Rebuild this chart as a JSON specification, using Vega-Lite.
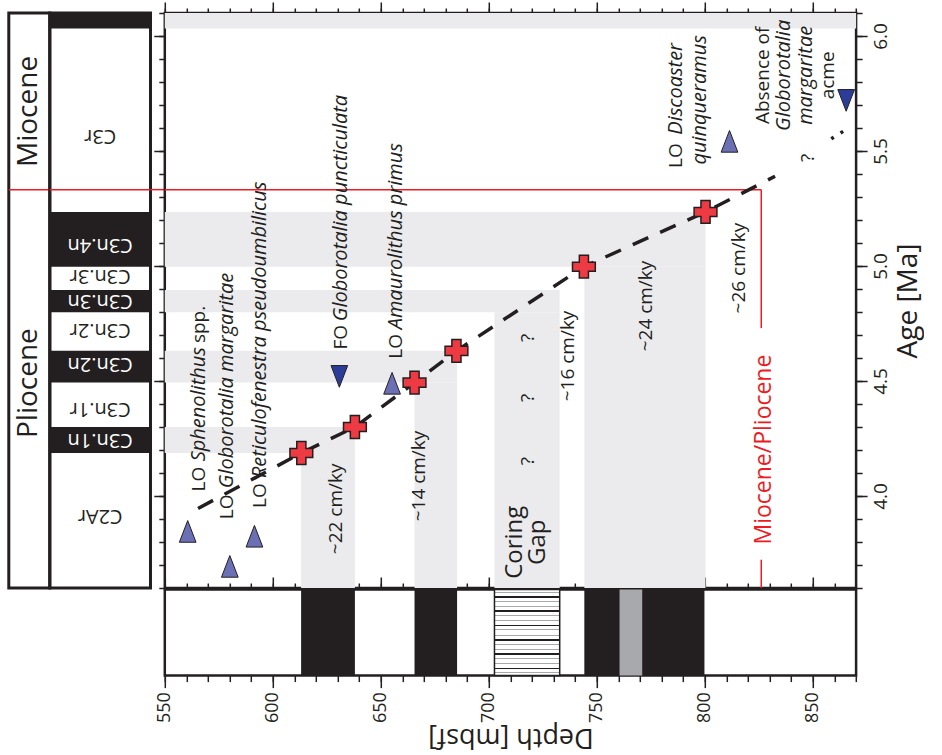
{
  "$schema": "https://vega.github.io/schema/vega-lite/v6.json",
  "padding": {"left": 5.8, "top": 0, "right": 0, "bottom": 0},
  "background": "white",
  "bounds": "flush",
  "columns": 4,
  "spacing": {"row": 1.6, "column": 0},
  "resolve": {"scale": {"x": "independent", "y": "independent"}},
  "config": {
    "view": {"stroke": null},
    "font": "Open Sans",
    "axis": {"domain": false, "grid": false, "tickColor": "#231f20", "tickWidth": 1.5, "labelColor": "#231f20", "titleColor": "#231f20", "labelFont": "Open Sans", "titleFont": "Open Sans", "titleFontWeight": "normal"},
    "text": {"font": "Open Sans"}
  },
  "datasets": {
    "bands": [
      {"d0": 550, "d1": 870, "a0": 6.033, "a1": 6.1},
      {"d0": 550, "d1": 800.3, "a0": 4.997, "a1": 5.235},
      {"d0": 744.2, "d1": 800.3, "a0": 3.6, "a1": 4.997},
      {"d0": 550, "d1": 732.8, "a0": 4.799, "a1": 4.896},
      {"d0": 702.6, "d1": 732.8, "a0": 3.6, "a1": 4.799},
      {"d0": 550, "d1": 685.3, "a0": 4.493, "a1": 4.631},
      {"d0": 665.6, "d1": 685.3, "a0": 3.6, "a1": 4.493},
      {"d0": 550, "d1": 638, "a0": 4.187, "a1": 4.3},
      {"d0": 613.1, "d1": 638, "a0": 3.6, "a1": 4.187}
    ],
    "boundary_lines": [
      {"d0": 550, "d1": 826.1, "a0": 5.332, "a1": 5.332},
      {"d0": 826.1, "d1": 826.1, "a0": 5.332, "a1": 4.73},
      {"d0": 826.1, "d1": 826.1, "a0": 3.723, "a1": 3.6}
    ],
    "boundary_age": [{"age": 5.332}],
    "model": [
      {"depth": 565.4, "age": 3.946},
      {"depth": 613.2, "age": 4.187},
      {"depth": 638, "age": 4.3},
      {"depth": 665.6, "age": 4.493},
      {"depth": 685, "age": 4.631},
      {"depth": 744, "age": 4.997},
      {"depth": 800.3, "age": 5.235},
      {"depth": 832.5, "age": 5.39}
    ],
    "model_dotted": [
      {"depth": 858.5, "age": 5.553},
      {"depth": 866.5, "age": 5.6}
    ],
    "ties": [
      {"depth": 613.2, "age": 4.187},
      {"depth": 638, "age": 4.3},
      {"depth": 665.6, "age": 4.493},
      {"depth": 685, "age": 4.631},
      {"depth": 744, "age": 4.997},
      {"depth": 800.3, "age": 5.235}
    ],
    "datums": [
      {"event": "LO Sphenolithus spp.", "kind": "LO", "depth": 560.6, "age": 3.846},
      {"event": "LO Globorotalia margaritae", "kind": "LO", "depth": 580.1, "age": 3.694},
      {"event": "LO Reticulofenestra pseudoumbilicus", "kind": "LO", "depth": 591.5, "age": 3.825},
      {"event": "FO Globorotalia puncticulata", "kind": "FO", "depth": 630.8, "age": 4.52},
      {"event": "LO Amaurolithus primus", "kind": "LO", "depth": 655.2, "age": 4.49},
      {"event": "LO Discoaster quinqueramus", "kind": "LO", "depth": 811.4, "age": 5.542},
      {"event": "Absence of Globorotalia margaritae acme", "kind": "FO", "depth": 865.4, "age": 5.72}
    ],
    "labels_left": [
      {"text": "LO", "depth": 568.5, "age": 4.02},
      {"text": "spp.", "depth": 568.5, "age": 4.665},
      {"text": "LO", "depth": 581.6, "age": 3.899},
      {"text": "LO", "depth": 596.9, "age": 3.948},
      {"text": "FO", "depth": 634.4, "age": 4.637},
      {"text": "LO", "depth": 659.9, "age": 4.597},
      {"text": "~22 cm/ky", "depth": 632.1, "age": 3.747},
      {"text": "~14 cm/ky", "depth": 670.6, "age": 3.89},
      {"text": "~16 cm/ky", "depth": 739.4, "age": 4.412},
      {"text": "~24 cm/ky", "depth": 775.6, "age": 4.629},
      {"text": "~26 cm/ky", "depth": 818.8, "age": 4.794},
      {"text": "LO", "depth": 789.5, "age": 5.426}
    ],
    "labels_left_it": [
      {"text": "Sphenolithus", "depth": 568.5, "age": 4.151},
      {"text": "Globorotalia margaritae", "depth": 581.6, "age": 4.034},
      {"text": "Reticulofenestra pseudoumbilicus", "depth": 596.9, "age": 4.078},
      {"text": "Globorotalia puncticulata", "depth": 634.4, "age": 4.76},
      {"text": "Amaurolithus primus", "depth": 659.9, "age": 4.725},
      {"text": "Discoaster", "depth": 789.5, "age": 5.571},
      {"text": "quinqueramus", "depth": 800.3, "age": 5.441}
    ],
    "labels_center": [
      {"text": "?", "depth": 720.8, "age": 4.687},
      {"text": "?", "depth": 720.8, "age": 4.426},
      {"text": "?", "depth": 720.8, "age": 4.151},
      {"text": "?", "depth": 850.5, "age": 5.47},
      {"text": "Absence of", "depth": 829.6, "age": 5.829},
      {"text": "acme", "depth": 859.7, "age": 5.829}
    ],
    "labels_center_it": [
      {"text": "Globorotalia", "depth": 839.6, "age": 5.829},
      {"text": "margaritae", "depth": 849.7, "age": 5.829}
    ],
    "labels_big": [
      {"text": "Coring", "depth": 715.4, "age": 3.799},
      {"text": "Gap", "depth": 726, "age": 3.799}
    ],
    "labels_red": [
      {"text": "Miocene/Pliocene", "depth": 830.4, "age": 4.202}
    ],
    "chrons": [
      {"label": "", "a0": 6.033, "a1": 6.1, "polarity": "normal", "label_age": 6.07},
      {"label": "C3r", "a0": 5.235, "a1": 6.033, "polarity": "reversed", "label_age": 5.564},
      {"label": "C3n.4n", "a0": 4.997, "a1": 5.235, "polarity": "normal", "label_age": 5.09},
      {"label": "C3n.3r", "a0": 4.896, "a1": 4.997, "polarity": "reversed", "label_age": 4.955},
      {"label": "C3n.3n", "a0": 4.799, "a1": 4.896, "polarity": "normal", "label_age": 4.847},
      {"label": "C3n.2r", "a0": 4.631, "a1": 4.799, "polarity": "reversed", "label_age": 4.72},
      {"label": "C3n.2n", "a0": 4.493, "a1": 4.631, "polarity": "normal", "label_age": 4.573},
      {"label": "C3n.1r", "a0": 4.3, "a1": 4.493, "polarity": "reversed", "label_age": 4.379},
      {"label": "C3n.1n", "a0": 4.187, "a1": 4.3, "polarity": "normal", "label_age": 4.242},
      {"label": "C2Ar", "a0": 3.6, "a1": 4.187, "polarity": "reversed", "label_age": 3.912}
    ],
    "epochs": [
      {"epoch": "Miocene", "label_age": 5.672},
      {"epoch": "Pliocene", "label_age": 4.491}
    ],
    "cores": [
      {"d0": 613.1, "d1": 638, "kind": "recovered", "track": "core"},
      {"d0": 665.6, "d1": 685.3, "kind": "recovered", "track": "core"},
      {"d0": 744.2, "d1": 799.8, "kind": "recovered", "track": "core"},
      {"d0": 760.5, "d1": 771, "kind": "gray", "track": "core"},
      {"d0": 702.6, "d1": 732.8, "kind": "gap", "track": "core"}
    ]
  },
  "concat": [
    {
      "width": 41, "height": 575,
      "view": {"stroke": "#231f20", "strokeWidth": 3},
      "layer": [
        {
          "data": {"name": "epochs"},
          "mark": {"type": "text", "angle": 270, "fontSize": 28, "align": "center", "baseline": "middle", "color": "#231f20"},
          "encoding": {
            "y": {"field": "label_age", "type": "quantitative", "scale": {"domain": [3.6, 6.1], "nice": false, "zero": false}, "axis": null},
            "text": {"field": "epoch"}
          }
        },
        {
          "data": {"name": "boundary_age"},
          "mark": {"type": "rule", "color": "#ed1c24", "strokeWidth": 1.5},
          "encoding": {"y": {"field": "age", "type": "quantitative", "axis": null}}
        }
      ]
    },
    {
      "width": 100.7, "height": 575,
      "view": {"stroke": "#231f20", "strokeWidth": 3},
      "layer": [
        {
          "data": {"name": "chrons"},
          "transform": [{"filter": "datum.polarity == 'normal'"}],
          "mark": {"type": "rect", "color": "#231f20"},
          "encoding": {
            "y": {"field": "a0", "type": "quantitative", "scale": {"domain": [3.6, 6.1], "nice": false, "zero": false}, "axis": null},
            "y2": {"field": "a1"}
          }
        },
        {
          "data": {"name": "boundary_age"},
          "mark": {"type": "rule", "color": "#ed1c24", "strokeWidth": 1.5},
          "encoding": {"y": {"field": "age", "type": "quantitative", "axis": null}}
        },
        {
          "data": {"name": "chrons"},
          "mark": {"type": "text", "angle": 180, "fontSize": 20, "align": "center", "baseline": "middle"},
          "encoding": {
            "y": {"field": "label_age", "type": "quantitative", "axis": null},
            "text": {"field": "label"},
            "color": {"field": "polarity", "type": "nominal", "scale": {"domain": ["normal", "reversed"], "range": ["#ffffff", "#231f20"]}, "legend": null}
          }
        }
      ]
    },
    {
      "width": 13.7, "height": 575,
      "data": {"name": "boundary_age"},
      "mark": {"type": "rule", "color": "#ed1c24", "strokeWidth": 1.5},
      "encoding": {"y": {"field": "age", "type": "quantitative", "scale": {"domain": [3.6, 6.1], "nice": false, "zero": false}, "axis": null}}
    },
    {
      "width": 691.3, "height": 575,
      "view": {"stroke": "#231f20", "strokeWidth": 2.5},
      "resolve": {"axis": {"x": "independent", "y": "independent"}},
      "layer": [
        {
          "data": {"name": "bands"},
          "mark": {"type": "rect", "color": "#ebebee"},
          "encoding": {
            "x": {"field": "d0", "type": "quantitative", "scale": {"domain": [550, 870], "nice": false, "zero": false},
                  "axis": {"orient": "bottom", "values": [550,560,570,580,590,600,610,620,630,640,650,660,670,680,690,700,710,720,730,740,750,760,770,780,790,800,810,820,830,840,850,860,870], "tickSize": -5, "labels": false, "title": null}},
            "x2": {"field": "d1"},
            "y": {"field": "a0", "type": "quantitative", "scale": {"domain": [3.6, 6.1], "nice": false, "zero": false},
                  "axis": {"orient": "left", "values": [3.6,3.7,3.8,3.9,4.0,4.1,4.2,4.3,4.4,4.5,4.6,4.7,4.8,4.9,5.0,5.1,5.2,5.3,5.4,5.5,5.6,5.7,5.8,5.9,6.0,6.1], "tickSize": 6, "labels": false, "title": null}},
            "y2": {"field": "a1"}
          }
        },
        {
          "data": {"name": "boundary_lines"},
          "mark": {"type": "rule", "color": "#ed1c24", "strokeWidth": 1.5},
          "encoding": {
            "x": {"field": "d0", "type": "quantitative", "axis": null},
            "x2": {"field": "d1"},
            "y": {"field": "a0", "type": "quantitative", "axis": null},
            "y2": {"field": "a1"}
          }
        },
        {
          "data": {"name": "model"},
          "mark": {"type": "line", "color": "#231f20", "strokeWidth": 3.5, "strokeDash": [17, 13]},
          "encoding": {
            "x": {"field": "depth", "type": "quantitative",
                  "axis": {"orient": "bottom", "values": [550,600,650,700,750,800,850], "tickSize": -11, "labels": false, "title": null}},
            "y": {"field": "age", "type": "quantitative",
                  "axis": {"orient": "right", "values": [4.0,4.5,5.0,5.5,6.0], "format": ".1f", "tickSize": 11, "labelAngle": 270, "labelAlign": "center", "labelBaseline": "top", "labelPadding": 4, "labelFontSize": 19, "title": "Age [Ma]", "titleFontSize": 28, "titleAngle": 270, "titleBaseline": "top", "titlePadding": 4}}
          }
        },
        {
          "data": {"name": "model_dotted"},
          "mark": {"type": "line", "color": "#231f20", "strokeWidth": 3.5, "strokeDash": [3, 8]},
          "encoding": {
            "x": {"field": "depth", "type": "quantitative", "axis": null},
            "y": {"field": "age", "type": "quantitative", "axis": null}
          }
        },
        {
          "data": {"name": "ties"},
          "mark": {"type": "point", "shape": "cross", "filled": true, "size": 520, "fill": "#ee3a43", "stroke": "#231f20", "strokeWidth": 1.5, "opacity": 1},
          "encoding": {
            "x": {"field": "depth", "type": "quantitative",
                  "axis": {"orient": "top", "values": [550,560,570,580,590,600,610,620,630,640,650,660,670,680,690,700,710,720,730,740,750,760,770,780,790,800,810,820,830,840,850,860,870], "tickSize": 5, "labels": false, "title": null}},
            "y": {"field": "age", "type": "quantitative",
                  "axis": {"orient": "right", "values": [3.6,3.7,3.8,3.9,4.0,4.1,4.2,4.3,4.4,4.5,4.6,4.7,4.8,4.9,5.0,5.1,5.2,5.3,5.4,5.5,5.6,5.7,5.8,5.9,6.0,6.1], "tickSize": 6, "labels": false, "title": null}}
          }
        },
        {
          "data": {"name": "datums"},
          "mark": {"type": "point", "filled": true, "size": 470, "stroke": "#231f20", "strokeWidth": 1, "opacity": 1},
          "encoding": {
            "x": {"field": "depth", "type": "quantitative",
                  "axis": {"orient": "top", "values": [550,600,650,700,750,800,850], "tickSize": 11, "labels": false, "title": null}},
            "y": {"field": "age", "type": "quantitative",
                  "axis": {"orient": "left", "values": [4.0,4.5,5.0,5.5,6.0], "tickSize": 11, "labels": false, "title": null}},
            "shape": {"field": "kind", "type": "nominal", "scale": {"domain": ["LO", "FO"], "range": ["M0,-1L-0.77,1L0.77,1Z", "M0,1L-0.77,-1L0.77,-1Z"]}, "legend": null},
            "fill": {"field": "kind", "type": "nominal", "scale": {"domain": ["LO", "FO"], "range": ["#6b6fb4", "#2b3d98"]}, "legend": null}
          }
        },
        {
          "data": {"name": "labels_left"},
          "mark": {"type": "text", "angle": 270, "align": "left", "baseline": "alphabetic", "fontSize": 19, "color": "#231f20"},
          "encoding": {
            "x": {"field": "depth", "type": "quantitative", "axis": null},
            "y": {"field": "age", "type": "quantitative", "axis": null},
            "text": {"field": "text"}
          }
        },
        {
          "data": {"name": "labels_left_it"},
          "mark": {"type": "text", "angle": 270, "align": "left", "baseline": "alphabetic", "fontSize": 20, "fontStyle": "italic", "color": "#231f20"},
          "encoding": {
            "x": {"field": "depth", "type": "quantitative", "axis": null},
            "y": {"field": "age", "type": "quantitative", "axis": null},
            "text": {"field": "text"}
          }
        },
        {
          "data": {"name": "labels_center"},
          "mark": {"type": "text", "angle": 270, "align": "center", "baseline": "alphabetic", "fontSize": 19, "color": "#231f20"},
          "encoding": {
            "x": {"field": "depth", "type": "quantitative", "axis": null},
            "y": {"field": "age", "type": "quantitative", "axis": null},
            "text": {"field": "text"}
          }
        },
        {
          "data": {"name": "labels_center_it"},
          "mark": {"type": "text", "angle": 270, "align": "center", "baseline": "alphabetic", "fontSize": 20, "fontStyle": "italic", "color": "#231f20"},
          "encoding": {
            "x": {"field": "depth", "type": "quantitative", "axis": null},
            "y": {"field": "age", "type": "quantitative", "axis": null},
            "text": {"field": "text"}
          }
        },
        {
          "data": {"name": "labels_big"},
          "mark": {"type": "text", "angle": 270, "align": "center", "baseline": "alphabetic", "fontSize": 24, "color": "#231f20"},
          "encoding": {
            "x": {"field": "depth", "type": "quantitative", "axis": null},
            "y": {"field": "age", "type": "quantitative", "axis": null},
            "text": {"field": "text"}
          }
        },
        {
          "data": {"name": "labels_red"},
          "mark": {"type": "text", "angle": 270, "align": "center", "baseline": "alphabetic", "fontSize": 23, "color": "#ed1c24"},
          "encoding": {
            "x": {"field": "depth", "type": "quantitative", "axis": null},
            "y": {"field": "age", "type": "quantitative", "axis": null},
            "text": {"field": "text"}
          }
        }
      ]
    },
    {"width": 1, "height": 1, "data": {"name": "boundary_age"}, "mark": {"type": "point", "opacity": 0}, "encoding": {"x": {"field": "age", "type": "quantitative", "axis": null}, "y": {"field": "age", "type": "quantitative", "axis": null}}},
    {"width": 1, "height": 1, "data": {"name": "boundary_age"}, "mark": {"type": "point", "opacity": 0}, "encoding": {"x": {"field": "age", "type": "quantitative", "axis": null}, "y": {"field": "age", "type": "quantitative", "axis": null}}},
    {"width": 1, "height": 1, "data": {"name": "boundary_age"}, "mark": {"type": "point", "opacity": 0}, "encoding": {"x": {"field": "age", "type": "quantitative", "axis": null}, "y": {"field": "age", "type": "quantitative", "axis": null}}},
    {
      "width": 691.3, "height": 86,
      "view": {"stroke": "#231f20", "strokeWidth": 2.5},
      "data": {"name": "cores"},
      "resolve": {"axis": {"x": "independent"}},
      "layer": [
        {
          "transform": [{"filter": "datum.kind == 'recovered'"}],
          "mark": {"type": "rect", "color": "#231f20"},
          "encoding": {
            "x": {"field": "d0", "type": "quantitative", "scale": {"domain": [550, 870], "nice": false, "zero": false},
                  "axis": {"orient": "bottom", "values": [550,560,570,580,590,600,610,620,630,640,650,660,670,680,690,700,710,720,730,740,750,760,770,780,790,800,810,820,830,840,850,860,870], "tickSize": 6, "labels": false, "title": null}},
            "x2": {"field": "d1"},
            "y": {"field": "track", "type": "nominal", "scale": {"paddingInner": 0, "paddingOuter": 0}, "axis": null}
          }
        },
        {
          "transform": [{"filter": "datum.kind == 'gray'"}],
          "mark": {"type": "rect", "color": "#a7a9ac"},
          "encoding": {
            "x": {"field": "d0", "type": "quantitative",
                  "axis": {"orient": "bottom", "values": [550,600,650,700,750,800,850], "tickSize": 12, "labelAngle": 270, "labelAlign": "right", "labelBaseline": "middle", "labelFontSize": 18, "labelPadding": 4, "title": "Depth [mbsf]", "titleFontSize": 27, "titleAngle": 180, "titleBaseline": "bottom", "titlePadding": 0}},
            "x2": {"field": "d1"},
            "y": {"field": "track", "type": "nominal", "axis": null}
          }
        },
        {
          "transform": [{"filter": "datum.kind == 'gap'"}],
          "mark": {"type": "rect", "stroke": "#231f20", "strokeWidth": 1.5,
            "fill": {"gradient": "linear", "x1": 0, "y1": 0, "x2": 0, "y2": 1, "stops": [
              {"offset": 0, "color": "#ffffff"},
              {"offset": 0.025, "color": "#ffffff"}, {"offset": 0.025, "color": "#a7a9ac"}, {"offset": 0.037, "color": "#a7a9ac"}, {"offset": 0.037, "color": "#ffffff"},
              {"offset": 0.073, "color": "#ffffff"}, {"offset": 0.073, "color": "#231f20"}, {"offset": 0.093, "color": "#231f20"}, {"offset": 0.093, "color": "#ffffff"},
              {"offset": 0.13, "color": "#ffffff"}, {"offset": 0.13, "color": "#a7a9ac"}, {"offset": 0.142, "color": "#a7a9ac"}, {"offset": 0.142, "color": "#ffffff"},
              {"offset": 0.192, "color": "#ffffff"}, {"offset": 0.192, "color": "#a7a9ac"}, {"offset": 0.204, "color": "#a7a9ac"}, {"offset": 0.204, "color": "#ffffff"},
              {"offset": 0.24, "color": "#ffffff"}, {"offset": 0.24, "color": "#231f20"}, {"offset": 0.26, "color": "#231f20"}, {"offset": 0.26, "color": "#ffffff"},
              {"offset": 0.297, "color": "#ffffff"}, {"offset": 0.297, "color": "#a7a9ac"}, {"offset": 0.309, "color": "#a7a9ac"}, {"offset": 0.309, "color": "#ffffff"},
              {"offset": 0.358, "color": "#ffffff"}, {"offset": 0.358, "color": "#a7a9ac"}, {"offset": 0.37, "color": "#a7a9ac"}, {"offset": 0.37, "color": "#ffffff"},
              {"offset": 0.406, "color": "#ffffff"}, {"offset": 0.406, "color": "#231f20"}, {"offset": 0.426, "color": "#231f20"}, {"offset": 0.426, "color": "#ffffff"},
              {"offset": 0.463, "color": "#ffffff"}, {"offset": 0.463, "color": "#a7a9ac"}, {"offset": 0.475, "color": "#a7a9ac"}, {"offset": 0.475, "color": "#ffffff"},
              {"offset": 0.525, "color": "#ffffff"}, {"offset": 0.525, "color": "#a7a9ac"}, {"offset": 0.537, "color": "#a7a9ac"}, {"offset": 0.537, "color": "#ffffff"},
              {"offset": 0.573, "color": "#ffffff"}, {"offset": 0.573, "color": "#231f20"}, {"offset": 0.593, "color": "#231f20"}, {"offset": 0.593, "color": "#ffffff"},
              {"offset": 0.63, "color": "#ffffff"}, {"offset": 0.63, "color": "#a7a9ac"}, {"offset": 0.642, "color": "#a7a9ac"}, {"offset": 0.642, "color": "#ffffff"},
              {"offset": 0.692, "color": "#ffffff"}, {"offset": 0.692, "color": "#a7a9ac"}, {"offset": 0.704, "color": "#a7a9ac"}, {"offset": 0.704, "color": "#ffffff"},
              {"offset": 0.74, "color": "#ffffff"}, {"offset": 0.74, "color": "#231f20"}, {"offset": 0.76, "color": "#231f20"}, {"offset": 0.76, "color": "#ffffff"},
              {"offset": 0.797, "color": "#ffffff"}, {"offset": 0.797, "color": "#a7a9ac"}, {"offset": 0.809, "color": "#a7a9ac"}, {"offset": 0.809, "color": "#ffffff"},
              {"offset": 0.858, "color": "#ffffff"}, {"offset": 0.858, "color": "#a7a9ac"}, {"offset": 0.87, "color": "#a7a9ac"}, {"offset": 0.87, "color": "#ffffff"},
              {"offset": 0.906, "color": "#ffffff"}, {"offset": 0.906, "color": "#231f20"}, {"offset": 0.926, "color": "#231f20"}, {"offset": 0.926, "color": "#ffffff"},
              {"offset": 0.963, "color": "#ffffff"}, {"offset": 0.963, "color": "#a7a9ac"}, {"offset": 0.975, "color": "#a7a9ac"}, {"offset": 0.975, "color": "#ffffff"},
              {"offset": 1, "color": "#ffffff"}
            ]}},
          "encoding": {
            "x": {"field": "d0", "type": "quantitative", "axis": null},
            "x2": {"field": "d1"},
            "y": {"field": "track", "type": "nominal", "axis": null}
          }
        }
      ]
    }
  ]
}
